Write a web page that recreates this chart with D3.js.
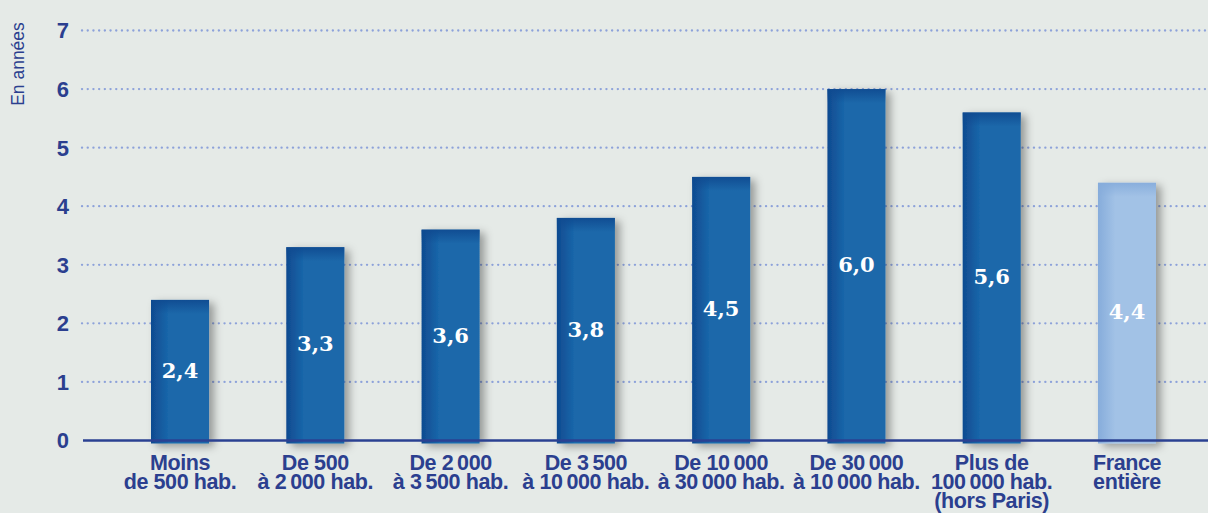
<!DOCTYPE html>
<html>
<head>
<meta charset="utf-8">
<script src="https://cdn.jsdelivr.net/npm/d3@7"></script>
<style>
  html, body { margin: 0; padding: 0; background: #e5eae7; }
  svg { display: block; }
</style>
</head>
<body>
<div id="chart"></div>
<script>
// data
const categories = [
  ["Moins", "de 500 hab."],
  ["De 500", "à 2\u2009000 hab."],
  ["De 2\u2009000", "à 3\u2009500 hab."],
  ["De 3\u2009500", "à 10\u2009000 hab."],
  ["De 10\u2009000", "à 30\u2009000 hab."],
  ["De 30\u2009000", "à 10\u2009000 hab."],
  ["Plus de", "100\u2009000 hab.", "(hors Paris)"],
  ["France", "entière"]
];
const values = [2.4, 3.3, 3.6, 3.8, 4.5, 6.0, 5.6, 4.4];
const labels = ["2,4", "3,3", "3,6", "3,8", "4,5", "6,0", "5,6", "4,4"];
const yTicks = [0, 1, 2, 3, 4, 5, 6, 7];

const width = 1208, height = 513;
const TEXT = "#2b3f8f";

let svg = d3.select("#chart").append("svg")
  .attr("width", width)
  .attr("height", height);

svg.append("rect").attr("width", width).attr("height", height).attr("fill", "#e5eae7");

let defs = svg.append("defs");

// gradients for the bars (dark edge left and top)
function barGradients(id, edge, body) {
  let h = defs.append("linearGradient").attr("id", id + "H")
    .attr("x1", 0).attr("x2", 1).attr("y1", 0).attr("y2", 0);
  h.append("stop").attr("offset", "0%").attr("stop-color", edge);
  h.append("stop").attr("offset", "30%").attr("stop-color", body);
  h.append("stop").attr("offset", "100%").attr("stop-color", body);
  let v = defs.append("linearGradient").attr("id", id + "V")
    .attr("x1", 0).attr("x2", 0).attr("y1", 0).attr("y2", 1);
  v.append("stop").attr("offset", "0%").attr("stop-color", edge).attr("stop-opacity", 0.9);
  v.append("stop").attr("offset", "100%").attr("stop-color", edge).attr("stop-opacity", 0);
}
barGradients("dark", "#0f4a90", "#1a67aa");
barGradients("light", "#86acdb", "#a2c2e6");

let shadow = defs.append("filter").attr("id", "shadow")
  .attr("x", "-20%").attr("y", "-10%").attr("width", "160%").attr("height", "130%");
shadow.append("feDropShadow")
  .attr("dx", 5).attr("dy", 3).attr("stdDeviation", 4)
  .attr("flood-color", "#000").attr("flood-opacity", 0.35);

let y = d3.scaleLinear().domain([0, 7]).range([440.5, 30.5]);
let x = d3.scaleBand()
  .domain(d3.range(categories.length))
  .range([151, 1156])
  .paddingInner(0.571)
  .paddingOuter(0);

// gridlines
svg.append("g")
  .selectAll("line")
  .data(yTicks.filter(d => d > 0))
  .join("line")
  .attr("x1", 82).attr("x2", width)
  .attr("y1", d => y(d)).attr("y2", d => y(d))
  .attr("stroke", "#8da2da")
  .attr("stroke-width", 2.3)
  .attr("stroke-linecap", "round")
  .attr("stroke-dasharray", "0.1 5.6");

// y tick labels
svg.append("g")
  .selectAll("text")
  .data(yTicks)
  .join("text")
  .attr("x", 69)
  .attr("y", d => y(d))
  .attr("dy", "0.36em")
  .attr("text-anchor", "end")
  .attr("font-family", "Liberation Sans, Arial, sans-serif")
  .attr("font-weight", "bold")
  .attr("font-size", 22)
  .attr("fill", TEXT)
  .text(d => d);

// y axis title
svg.append("text")
  .attr("transform", "translate(24,64) rotate(-90)")
  .attr("text-anchor", "middle")
  .attr("font-family", "Liberation Sans, Arial, sans-serif")
  .attr("font-size", 17.5)
  .attr("fill", TEXT)
  .text("En années");

// bars
let bars = svg.append("g")
  .selectAll("g")
  .data(values)
  .join("g");

bars.append("rect")
  .attr("x", (d, i) => x(i))
  .attr("y", d => y(d))
  .attr("width", x.bandwidth())
  .attr("height", d => y(0) - y(d) + 3)
  .attr("fill", (d, i) => i === values.length - 1 ? "url(#lightH)" : "url(#darkH)")
  .attr("filter", "url(#shadow)");

bars.append("rect")
  .attr("x", (d, i) => x(i))
  .attr("y", d => y(d))
  .attr("width", x.bandwidth())
  .attr("height", 14)
  .attr("fill", (d, i) => i === values.length - 1 ? "url(#lightV)" : "url(#darkV)");

// axis line
svg.append("line")
  .attr("x1", 83).attr("x2", width)
  .attr("y1", y(0)).attr("y2", y(0))
  .attr("stroke", "#2a4192")
  .attr("stroke-width", 2.5);

// value labels
bars.append("text")
  .attr("x", (d, i) => x(i) + x.bandwidth() / 2)
  .attr("y", d => (y(d) + y(0)) / 2)
  .attr("dy", "0.36em")
  .attr("text-anchor", "middle")
  .attr("font-family", "DejaVu Serif, serif")
  .attr("font-weight", "bold")
  .attr("font-size", 21)
  .attr("fill", "#fff")
  .text((d, i) => labels[i]);

// category labels, one text per line
let cat = svg.append("g")
  .selectAll("g")
  .data(categories)
  .join("g")
  .attr("transform", (d, i) => `translate(${x(i) + x.bandwidth() / 2},470)`);

cat.selectAll("text")
  .data(d => d)
  .join("text")
  .attr("y", (d, i) => i * 19)
  .attr("text-anchor", "middle")
  .attr("font-family", "Liberation Sans, Arial, sans-serif")
  .attr("font-weight", "bold")
  .attr("font-size", 21.5)
  .attr("letter-spacing", -0.4)
  .attr("fill", TEXT)
  .text(d => d);
</script>
</body>
</html>
